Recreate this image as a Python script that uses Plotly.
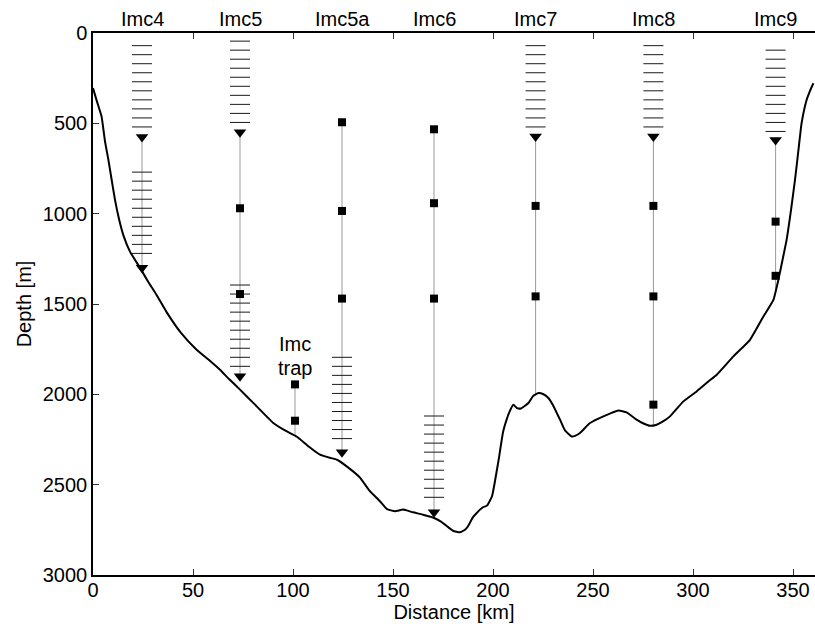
import plotly.graph_objects as go

# ---------------- data ----------------
stations = ["Imc4", "Imc5", "Imc5a", "Imc6", "Imc7", "Imc8", "Imc9"]
station_km = [24.5, 73.5, 124.5, 170.5, 221.3, 280.2, 341.3]

# bathymetry (distance km, depth m)
bathy_km = [0, 2, 4.3, 6, 7.7, 9, 11, 13, 15.2, 18.5, 23.5, 27.5, 31.8, 36.8, 44, 51.8,
            58, 63.5, 68, 73.5, 80, 90, 96, 102, 108, 113.5, 118, 122, 127, 133.5,
            138, 143.5, 147, 151, 155, 160, 165, 170, 174, 177, 180, 183.5, 186,
            187.5, 190, 192, 195, 197, 199.5, 201, 203, 205, 206.8, 208.5, 210.2,
            212, 214, 217.7, 220, 222.7, 225, 227.7, 230, 233.5, 236, 239.3, 241,
            243.5, 248.5, 255.2, 262.7, 266.8, 271.8, 275, 278.5, 281.8, 285, 288.5,
            295.2, 301.8, 307.7, 312, 320.2, 328.5, 335.2, 340.2, 342.7, 344.5,
            346.8, 349, 351, 352.8, 354.3, 356.8, 358.5, 360.2]
bathy_m = [305, 380, 463, 600, 702, 790, 924, 1030, 1120, 1210, 1300, 1375, 1450, 1545, 1660, 1753,
           1810, 1864, 1915, 1974, 2046, 2157, 2200, 2235, 2290, 2334, 2350, 2362, 2400, 2461,
           2530, 2592, 2635, 2647, 2638, 2653, 2666, 2682, 2705, 2730, 2755, 2764, 2750,
           2730, 2680, 2655, 2625, 2616, 2564, 2480, 2350, 2210, 2140, 2090, 2058,
           2076, 2078, 2048, 2010, 1993, 1998, 2020, 2060, 2140, 2200, 2233, 2230,
           2214, 2159, 2122, 2089, 2100, 2140, 2160, 2174, 2168, 2150, 2122,
           2039, 1984, 1929, 1890, 1790, 1698, 1569, 1477, 1366, 1270,
           1145, 980, 813, 640, 499, 371, 320, 278]

# mooring lines (km, top depth, bottom depth)
mooring_km = [24.5, 73.5, 101.0, 124.5, 170.5, 221.3, 280.2, 341.3]
mooring_top = [576, 550, 1945, 494, 533, 573, 573, 592]
mooring_bottom = [1300, 1900, 2227, 2320, 2653, 2000, 2174, 1421]

# point instruments (squares)
inst_km = [73.5, 73.5, 101.0, 101.0, 124.5, 124.5, 124.5, 170.5, 170.5, 170.5,
           221.3, 221.3, 280.2, 280.2, 280.2, 341.3, 341.3]
inst_m = [970, 1445, 1945, 2146, 494, 985, 1470, 533, 942, 1470,
          957, 1458, 957, 1458, 2057, 1044, 1344]

# ADCPs (downward triangles)
adcp_km = [24.5, 24.5, 73.5, 73.5, 124.5, 170.5, 221.3, 280.2, 341.3]
adcp_m = [576, 1300, 550, 1900, 2320, 2653, 573, 573, 592]

# ADCP bin depths
bins_imc4_upper = [70, 120, 170, 220, 270, 320, 370, 420, 470, 520]
bins_imc4_lower = [770, 820, 870, 920, 970, 1020, 1070, 1120, 1170, 1220]
bins_imc5_upper = [45, 95, 145, 195, 245, 295, 345, 395, 445, 495]
bins_imc5_lower = [1395, 1445, 1495, 1545, 1595, 1645, 1695, 1745, 1795, 1845]
bins_imc5a = [1795, 1845, 1895, 1945, 1995, 2045, 2095, 2145, 2195, 2245]
bins_imc6 = [2120, 2170, 2220, 2270, 2320, 2370, 2420, 2470, 2520, 2570]
bins_imc7 = [70, 120, 170, 220, 270, 320, 370, 420, 470, 520]
bins_imc8 = [70, 120, 170, 220, 270, 320, 370, 420, 470, 520]
bins_imc9 = [95, 145, 195, 245, 295, 345, 395, 445, 495, 545]

bin_sets = [(24.5, bins_imc4_upper), (24.5, bins_imc4_lower),
            (73.5, bins_imc5_upper), (73.5, bins_imc5_lower),
            (124.5, bins_imc5a), (170.5, bins_imc6),
            (221.3, bins_imc7), (280.2, bins_imc8), (341.3, bins_imc9)]
bin_half_width_km = 5

x_ticks = [0, 50, 100, 150, 200, 250, 300, 350]
y_ticks = [0, 500, 1000, 1500, 2000, 2500, 3000]

FONT = "Liberation Sans, Arial, Helvetica, sans-serif"

# ---------------- figure ----------------
fig = go.Figure()

# mooring lines
mx, my = [], []
for k, t, b in zip(mooring_km, mooring_top, mooring_bottom):
    mx += [k, k, None]
    my += [t, b, None]
fig.add_trace(go.Scatter(x=mx, y=my, mode="lines",
                         line=dict(color="#999999", width=1), hoverinfo="skip"))

# ADCP bins
bx, by = [], []
for k, depths in bin_sets:
    for d in depths:
        bx += [k - bin_half_width_km, k + bin_half_width_km, None]
        by += [d, d, None]
fig.add_trace(go.Scatter(x=bx, y=by, mode="lines",
                         line=dict(color="#1a1a1a", width=1), hoverinfo="skip"))

# bathymetry
fig.add_trace(go.Scatter(x=bathy_km, y=bathy_m, mode="lines",
                         line=dict(color="black", width=2, shape="spline", smoothing=0.4)))

# instruments
fig.add_trace(go.Scatter(x=inst_km, y=inst_m, mode="markers",
                         marker=dict(symbol="square", size=8, color="black")))
fig.add_trace(go.Scatter(x=adcp_km, y=adcp_m, mode="markers",
                         marker=dict(symbol="triangle-down", size=11, color="black")))

# station labels above the frame
for name, k in zip(stations, station_km):
    fig.add_annotation(x=k, y=1, xref="x", yref="paper", text=name, showarrow=False,
                       yanchor="bottom", yshift=1, font=dict(size=20, color="black", family=FONT))

# trap label
fig.add_annotation(x=101, y=1722, text="Imc", showarrow=False,
                   font=dict(size=20, color="black", family=FONT))
fig.add_annotation(x=101, y=1852, text="trap", showarrow=False,
                   font=dict(size=20, color="black", family=FONT))

fig.update_layout(
    width=815, height=624,
    margin=dict(l=93, r=0, t=33, b=49),
    paper_bgcolor="white", plot_bgcolor="white",
    showlegend=False,
    font=dict(family=FONT, size=20, color="black"),
)
fig.update_xaxes(range=[0, 361], tickvals=x_ticks, ticks="inside", ticklen=6,
                 tickcolor="#333333", tickwidth=1, ticklabelstandoff=-4,
                 showline=True, linecolor="black", linewidth=2, mirror="ticks",
                 showgrid=False, zeroline=False,
                 title=dict(text="Distance [km]", standoff=0, font=dict(size=20)),
                 tickfont=dict(size=20))
fig.update_yaxes(range=[3000, 0], tickvals=y_ticks, ticks="inside", ticklen=6,
                 tickcolor="#333333", tickwidth=1,
                 showline=True, linecolor="black", linewidth=1.5, mirror=False,
                 showgrid=False, zeroline=False,
                 title=dict(text="Depth [m]", standoff=6, font=dict(size=20)),
                 tickfont=dict(size=20))

fig.write_html("out.html")
